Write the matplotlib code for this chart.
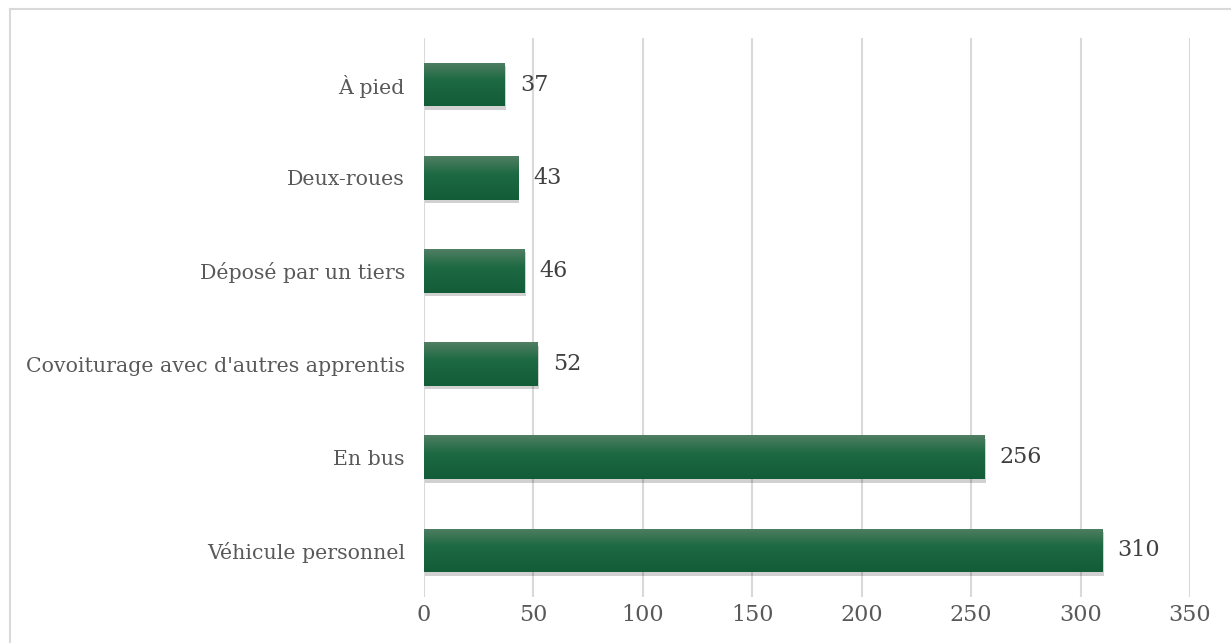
import numpy as np
import matplotlib
matplotlib.use("Agg")
import matplotlib.pyplot as plt
from matplotlib.colors import LinearSegmentedColormap
from matplotlib.lines import Line2D
import matplotlib.patheffects as pe

categories = ["Véhicule personnel", "En bus", "Covoiturage avec d'autres apprentis",
              "Déposé par un tiers", "Deux-roues", "À pied"]
values = [310, 256, 52, 46, 43, 37]
xticks = [0, 50, 100, 150, 200, 250, 300, 350]

plt.rcParams['font.family'] = ['DejaVu Serif']
W, H = 1231, 643
fig = plt.figure(figsize=(W/100, H/100), dpi=100)
ax = fig.add_axes([424/W, (H-597)/H, (1190-424)/W, (597-38)/H])

txtc = '#595959'
y = np.arange(len(categories))
bars = ax.barh(y, values, height=0.47, color='#1b6640', zorder=3,
               path_effects=[pe.SimplePatchShadow(offset=(1, -2.5), shadow_rgbFace='black', alpha=0.18), pe.Normal()])
cmap = LinearSegmentedColormap.from_list('g', [(0, '#135c38'), (0.6, '#1d6a43'), (1.0, '#517f63')])
grad = np.linspace(0, 1, 256).reshape(-1, 1)
for b, v in zip(bars, values):
    x0, y0, w, h = b.get_x(), b.get_y(), b.get_width(), b.get_height()
    im = ax.imshow(grad, extent=[x0, x0 + w, y0, y0 + h], origin='lower', cmap=cmap,
                   aspect='auto', zorder=3.1, interpolation='bilinear')
    im.set_clip_path(b)
    ax.annotate(str(v), (v, y0 + h/2), xytext=(15, 0), textcoords='offset pixels',
                ha='left', va='center', fontsize=16, color='#404040', zorder=4)

ax.set_xlim(0, 350)
ax.set_ylim(-0.5, 5.5)
ax.set_xticks(xticks)
ax.set_yticks(y)
ax.set_yticklabels(categories)
ax.tick_params(axis='both', length=0, labelcolor=txtc)
ax.tick_params(axis='x', labelsize=16, pad=5)
ax.tick_params(axis='y', labelsize=14.8, pad=13.7)
ax.grid(axis='x', color='#d9d9d9', linewidth=1.5, zorder=0)
ax.set_axisbelow(True)
for s in ax.spines.values():
    s.set_visible(False)

fig.add_artist(Line2D([10/W, 10/W], [0, (H-9)/H], color='#d9d9d9', linewidth=1.5, transform=fig.transFigure))
fig.add_artist(Line2D([10/W, 1], [(H-9)/H, (H-9)/H], color='#d9d9d9', linewidth=1.5, transform=fig.transFigure))

fig.savefig('out.png', dpi=100)
